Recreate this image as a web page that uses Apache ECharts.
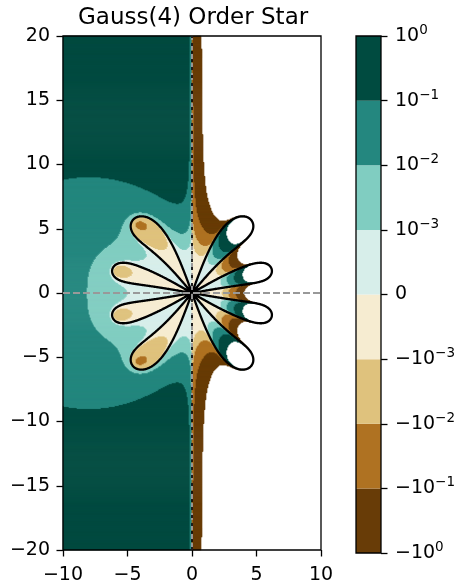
<!DOCTYPE html>
<html><head><meta charset="utf-8">
<script src="https://cdn.jsdelivr.net/npm/echarts@6/dist/echarts.min.js"></script>
<style>html,body{margin:0;padding:0;background:#fff}#c{width:459px;height:585px}</style>
</head><body><div id="c"></div>
<script>
// Gauss(4) (4-stage Gauss-Legendre) stability function R(z) = P(z)/P(-z), P coefficients (ascending powers)
const numeratorCoeffs = [1, 1/2, 3/28, 1/84, 1/1680];
const xRange = [-10, 10];
const yRange = [-20, 20];
const xTickInterval = 5;
const yTickInterval = 5;
// filled contour levels of |R(z)| - |exp(z)|
const levels = [-1, -0.1, -0.01, -0.001, 0, 0.001, 0.01, 0.1, 1];
const levelColors = ['#683c07', '#af7222', '#dfc27d', '#f6ecd1', '#d7eeea', '#80cdc1', '#24877f', '#004b40'];
// colorbar tick labels: [base, exponent]
const colorbarLabels = [['−10', '0'], ['−10', '−1'], ['−10', '−2'], ['−10', '−3'], ['0', ''], ['10', '−3'], ['10', '−2'], ['10', '−1'], ['10', '0']];
const chartTitle = 'Gauss(4) Order Star';

function absPoly(c, zr, zi) {
  let r = c[c.length - 1], im = 0;
  for (let k = c.length - 2; k >= 0; k--) {
    const nr = r * zr - im * zi + c[k];
    const ni = r * zi + im * zr;
    r = nr; im = ni;
  }
  return Math.hypot(r, im);
}
function field(x, y) {
  const v = absPoly(numeratorCoeffs, x, y) / absPoly(numeratorCoeffs, -x, -y) - Math.exp(x);
  if (!isFinite(v)) return 1e9;
  return Math.max(-1e9, Math.min(1e9, v));
}

// ---- filled field (heatmap cells) ----
const nx = 258, ny = 517;
const xCats = Array.from({length: nx}, (_, i) => i);
const yCats = Array.from({length: ny}, (_, j) => j);
const heatData = [];
for (let i = 0; i < nx; i++) {
  const x = xRange[0] + (i + 0.5) * (xRange[1] - xRange[0]) / nx;
  for (let j = 0; j < ny; j++) {
    const y = yRange[0] + (j + 0.5) * (yRange[1] - yRange[0]) / ny;
    const f = field(x, y);
    if (f >= levels[0] && f <= levels[levels.length - 1]) heatData.push([i, j, f]);
  }
}

// ---- zero contour (marching squares) ----
const NX = 400, NY = 800;
const hx = (xRange[1] - xRange[0]) / NX, hy = (yRange[1] - yRange[0]) / NY;
const gx = i => xRange[0] + i * hx, gy = j => yRange[0] + j * hy;
const vals = new Float64Array((NX + 1) * (NY + 1));
for (let i = 0; i <= NX; i++) for (let j = 0; j <= NY; j++) vals[i * (NY + 1) + j] = field(gx(i), gy(j));
const V = (i, j) => vals[i * (NY + 1) + j];
const zeroCol = Math.round(-xRange[0] / hx);
const segments = [];
function cross(xa, ya, va, xb, yb, vb) {
  const t = va / (va - vb);
  return [xa + t * (xb - xa), ya + t * (yb - ya)];
}
for (let i = 0; i < NX; i++) {
  if (i === zeroCol || i === zeroCol - 1) continue;
  const x0 = gx(i), x1 = gx(i + 1);
  for (let j = 0; j < NY; j++) {
    const y0 = gy(j), y1 = gy(j + 1);
    const a = V(i, j), b = V(i + 1, j), c = V(i + 1, j + 1), d = V(i, j + 1);
    const sa = a > 0, sb = b > 0, sc = c > 0, sd = d > 0;
    if (sa === sb && sb === sc && sc === sd) continue;
    const pts = [null, null, null, null];
    if (sa !== sb) pts[0] = cross(x0, y0, a, x1, y0, b);
    if (sb !== sc) pts[1] = cross(x1, y0, b, x1, y1, c);
    if (sd !== sc) pts[2] = cross(x0, y1, d, x1, y1, c);
    if (sa !== sd) pts[3] = cross(x0, y0, a, x0, y1, d);
    const p = pts.filter(q => q);
    if (p.length === 2) segments.push(p);
    else if (p.length === 4) {
      const center = (a + b + c + d) / 4;
      if ((center > 0) === sa) { segments.push([pts[0], pts[1]]); segments.push([pts[2], pts[3]]); }
      else { segments.push([pts[0], pts[3]]); segments.push([pts[1], pts[2]]); }
    }
  }
}

const FONT = 'DejaVu Sans';
const minus = v => String(v).replace('-', '−');
const pieces = [];
for (let k = 0; k < levelColors.length; k++) {
  const pc = {gte: levels[k], color: levelColors[k]};
  if (k === levelColors.length - 1) pc.lte = levels[k + 1]; else pc.lt = levels[k + 1];
  pieces.push(pc);
}

const barSeries = levelColors.map((col, k) => ({
  type: 'bar', xAxisIndex: 2, yAxisIndex: 2, stack: 'cb', data: [1],
  barWidth: '100%', itemStyle: {color: col}, silent: true, z: 2
}));

const axisLabelStyle = {color: '#000', fontSize: 19, fontFamily: FONT};

const option = {
  animation: false,
  backgroundColor: '#ffffff',
  title: {
    text: chartTitle, left: 73, top: 2,
    textStyle: {fontSize: 23, fontWeight: 'normal', color: '#000', fontFamily: FONT}
  },
  grid: [
    {left: 63, top: 36, width: 258, height: 517, show: true, borderColor: '#000', borderWidth: 1.3, z: 5, backgroundColor: 'rgba(0,0,0,0)'},
    {left: 356, top: 36, width: 25, height: 517, show: true, borderColor: '#000', borderWidth: 1.3, z: 5, backgroundColor: 'rgba(0,0,0,0)'}
  ],
  visualMap: {type: 'piecewise', show: false, seriesIndex: 0, dimension: 2, pieces: pieces, outOfRange: {color: 'rgba(0,0,0,0)'}},
  xAxis: [
    {type: 'category', gridIndex: 0, data: xCats, show: false},
    {type: 'value', gridIndex: 0, min: xRange[0], max: xRange[1], interval: xTickInterval, position: 'bottom',
     axisLine: {show: false}, splitLine: {show: false},
     axisTick: {show: true, length: 6.5, lineStyle: {color: '#000', width: 1.3}},
     axisLabel: Object.assign({margin: 16, formatter: minus}, axisLabelStyle)},
    {type: 'category', gridIndex: 1, data: ['cb'], show: false}
  ],
  yAxis: [
    {type: 'category', gridIndex: 0, data: yCats, show: false},
    {type: 'value', gridIndex: 0, min: yRange[0], max: yRange[1], interval: yTickInterval, position: 'left',
     axisLine: {show: false}, splitLine: {show: false},
     axisTick: {show: true, length: 6.5, lineStyle: {color: '#000', width: 1.3}},
     axisLabel: Object.assign({margin: 13, formatter: minus}, axisLabelStyle)},
    {type: 'value', gridIndex: 1, min: 0, max: levels.length - 1, interval: 1, position: 'right',
     axisLine: {show: false}, splitLine: {show: false},
     axisTick: {show: true, length: 6.5, lineStyle: {color: '#000', width: 1.3}},
     axisLabel: {margin: 14, color: '#000', fontFamily: FONT,
       formatter: v => {
         const lab = colorbarLabels[Math.round(v)];
         return lab[1] ? '{b|' + lab[0] + '}{e|' + lab[1] + '}' : '{b|' + lab[0] + '}';
       },
       rich: {
         b: {fontSize: 19, fontFamily: FONT, color: '#000'},
         e: {fontSize: 13.5, fontFamily: FONT, color: '#000', padding: [0, 0, 11, 0]}
       }}}
  ],
  series: [
    {type: 'heatmap', xAxisIndex: 0, yAxisIndex: 0, data: heatData, progressive: 0, silent: true, emphasis: {disabled: true}},
    {type: 'lines', coordinateSystem: 'cartesian2d', xAxisIndex: 1, yAxisIndex: 1, polyline: false, large: true, largeThreshold: 100,
     silent: true, z: 3,
     lineStyle: {color: '#000', width: 2.3, opacity: 1, cap: 'round', join: 'round'},
     data: segments.map(s => ({coords: s}))},
    {type: 'line', xAxisIndex: 1, yAxisIndex: 1, data: [], silent: true, z: 4,
     markLine: {
       silent: true, symbol: ['none', 'none'], label: {show: false}, animation: false,
       data: [
         {xAxis: 0, lineStyle: {color: '#999999', width: 1.9, type: [7, 3]}},
         {yAxis: 0, lineStyle: {color: '#999999', width: 1.9, type: [7, 3]}},
         {xAxis: 0, lineStyle: {color: '#000000', width: 1.6, type: [3, 5]}}
       ]
     }}
  ].concat(barSeries)
};

const chart = echarts.init(document.getElementById('c'), null, {renderer: 'canvas'});
chart.setOption(option);
</script>
</body></html>
